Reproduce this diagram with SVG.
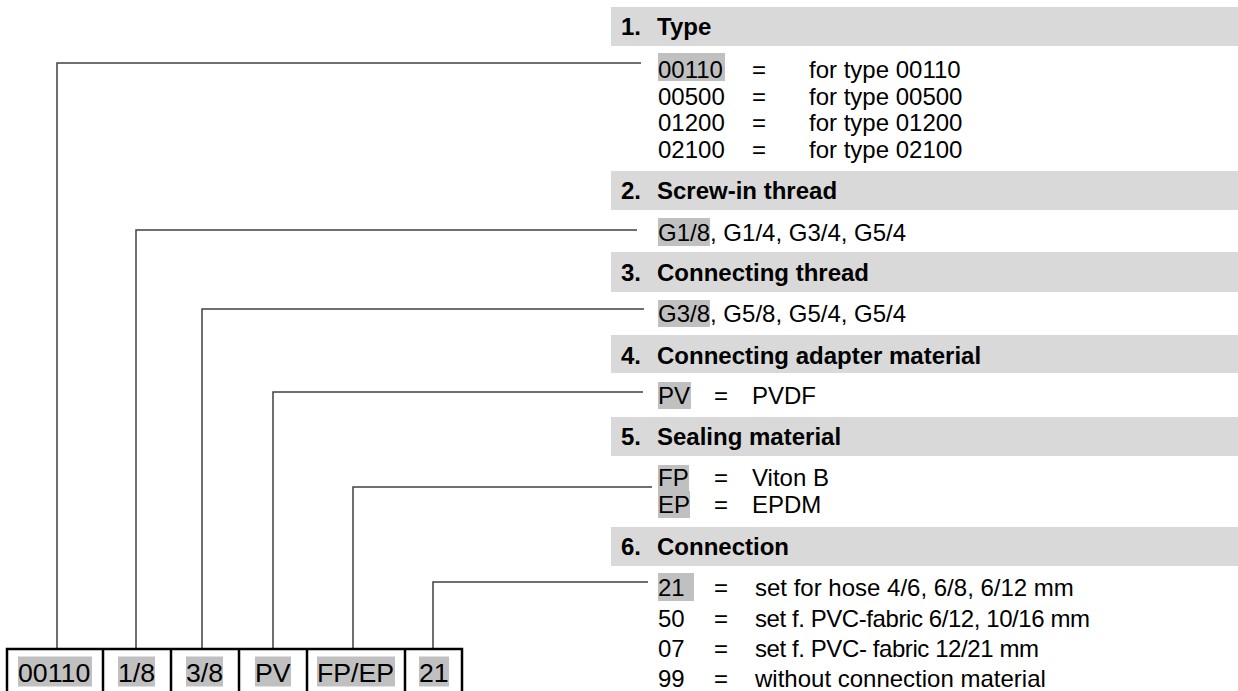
<svg xmlns="http://www.w3.org/2000/svg" width="1238" height="691" viewBox="0 0 1238 691">
<style>
.hdr{fill:#d9d9d9}
.hl{fill:#c0c0c0}
.t{font-family:"Liberation Sans",Arial,sans-serif;font-size:24px;fill:#000}
.b{font-family:"Liberation Sans",Arial,sans-serif;font-size:24px;font-weight:bold;fill:#000}
.bx{font-family:"Liberation Sans",Arial,sans-serif;font-size:26.7px;fill:#000}
.con{fill:none;stroke:#404040;stroke-width:1.5}
.box{fill:none;stroke:#000;stroke-width:2.5}
</style>
<rect width="1238" height="691" fill="#fff"/>
<g id="connectors">
<path class="con" d="M57 649V63H641"/>
<path class="con" d="M136 649V230H637"/>
<path class="con" d="M202 649V309H644"/>
<path class="con" d="M273 649V392H643"/>
<path class="con" d="M353 649V487H652"/>
<path class="con" d="M433 649V582H648"/>
</g>
<g id="section1">
<rect class="hdr" x="611" y="7" width="627" height="39"/>
<text class="b" x="621" y="35">1.</text><text class="b" x="657" y="35">Type</text>
<rect class="hl" x="658" y="53" width="67" height="28"/>
<text class="t" x="658" y="78">00110</text><text class="t" x="752" y="78">=</text><text class="t" x="809" y="78">for type 00110</text>
<text class="t" x="658" y="104.5">00500</text><text class="t" x="752" y="104.5">=</text><text class="t" x="809" y="104.5">for type 00500</text>
<text class="t" x="658" y="131">01200</text><text class="t" x="752" y="131">=</text><text class="t" x="809" y="131">for type 01200</text>
<text class="t" x="658" y="157.5">02100</text><text class="t" x="752" y="157.5">=</text><text class="t" x="809" y="157.5">for type 02100</text>
</g>
<g id="section2">
<rect class="hdr" x="611" y="171" width="627" height="39"/>
<text class="b" x="621" y="198.5">2.</text><text class="b" x="657" y="198.5">Screw-in thread</text>
<rect class="hl" x="658" y="218" width="52" height="28"/>
<text class="t" x="658" y="241">G1/8, G1/4, G3/4, G5/4</text>
</g>
<g id="section3">
<rect class="hdr" x="611" y="252" width="627" height="40"/>
<text class="b" x="621" y="281">3.</text><text class="b" x="657" y="281">Connecting thread</text>
<rect class="hl" x="658" y="300" width="52" height="27"/>
<text class="t" x="658" y="322">G3/8, G5/8, G5/4, G5/4</text>
</g>
<g id="section4">
<rect class="hdr" x="611" y="335" width="627" height="38"/>
<text class="b" x="621" y="364">4.</text><text class="b" x="657" y="364">Connecting adapter material</text>
<rect class="hl" x="658" y="382" width="33" height="27"/>
<text class="t" x="658" y="403.5">PV</text><text class="t" x="714" y="403.5">=</text><text class="t" x="752" y="403.5">PVDF</text>
</g>
<g id="section5">
<rect class="hdr" x="611" y="417" width="627" height="39"/>
<text class="b" x="621" y="445">5.</text><text class="b" x="657" y="445">Sealing material</text>
<rect class="hl" x="658" y="465" width="31" height="27"/>
<rect class="hl" x="658" y="491" width="32" height="27"/>
<text class="t" x="658" y="486">FP</text><text class="t" x="714" y="486">=</text><text class="t" x="752" y="486">Viton B</text>
<text class="t" x="658" y="513">EP</text><text class="t" x="714" y="513">=</text><text class="t" x="752" y="513">EPDM</text>
</g>
<g id="section6">
<rect class="hdr" x="611" y="527" width="627" height="39"/>
<text class="b" x="621" y="555">6.</text><text class="b" x="657" y="555">Connection</text>
<rect class="hl" x="658" y="573" width="36" height="28"/>
<text class="t" x="658" y="596">21</text><text class="t" x="714" y="596">=</text><text class="t" x="755" y="596">set for hose 4/6, 6/8, 6/12 mm</text>
<text class="t" x="658" y="627">50</text><text class="t" x="714" y="627">=</text><text class="t" x="755" y="627" textLength="335" lengthAdjust="spacing">set f. PVC-fabric 6/12, 10/16 mm</text>
<text class="t" x="658" y="657">07</text><text class="t" x="714" y="657">=</text><text class="t" x="755" y="657" textLength="284" lengthAdjust="spacing">set f. PVC- fabric 12/21 mm</text>
<text class="t" x="658" y="687">99</text><text class="t" x="714" y="687">=</text><text class="t" x="755" y="687">without connection material</text>
</g>
<g id="code-boxes">
<path class="box" d="M7 691V649H462V691M103 649V691M171 649V691M239 649V691M307 649V691M405 649V691"/>
<rect class="hl" x="18" y="656.5" width="74" height="30"/>
<text class="bx" x="18" y="682">00110</text>
<rect class="hl" x="118" y="656.5" width="37" height="30"/>
<text class="bx" x="118" y="682">1/8</text>
<rect class="hl" x="186" y="656.5" width="37" height="30"/>
<text class="bx" x="186" y="682">3/8</text>
<rect class="hl" x="255" y="656.5" width="36" height="30"/>
<text class="bx" x="255" y="682">PV</text>
<rect class="hl" x="317" y="656.5" width="78" height="30"/>
<text class="bx" x="317" y="682">FP/EP</text>
<rect class="hl" x="419" y="656.5" width="30" height="30"/>
<text class="bx" x="419" y="682">21</text>
</g>
</svg>
